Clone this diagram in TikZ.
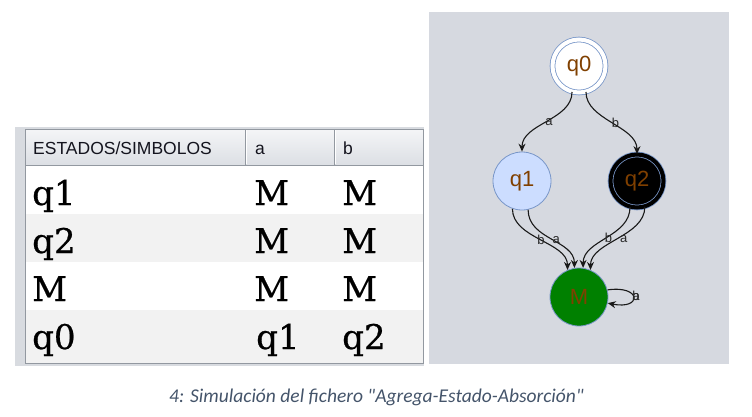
\documentclass[tikz,border=0pt]{standalone}
\usepackage{fontspec}
\setmainfont{Liberation Sans}
\newfontfamily\cellfont{DejaVu Serif}[FakeBold=0.7]
\newfontfamily\capfont{Carlito}
\usetikzlibrary{arrows.meta}
\definecolor{panel}{RGB}{214,217,224}
\definecolor{framec}{RGB}{216,219,224}
\definecolor{bord}{RGB}{120,150,200}
\definecolor{q1fill}{RGB}{204,221,255}
\definecolor{greenc}{RGB}{0,128,0}
\definecolor{brownc}{RGB}{128,64,0}
\definecolor{edgec}{RGB}{25,25,25}
\definecolor{lblc}{RGB}{40,40,40}
\definecolor{headc}{RGB}{20,20,30}
\definecolor{headtop}{RGB}{244,245,247}
\definecolor{headbot}{RGB}{220,223,228}
\definecolor{gridc}{RGB}{146,152,160}
\definecolor{rowgray}{RGB}{242,242,242}
\definecolor{capc}{RGB}{68,84,106}
\begin{document}
\begin{tikzpicture}[x=1pt,y=-1pt,
  edge/.style={draw=edgec, line width=1.1pt, -{Stealth[length=8pt,width=7pt]}},
  lbl/.style={font=\fontsize{13}{13}\selectfont, text=lblc, inner sep=0.5pt},
  state/.style={circle, minimum size=58pt, inner sep=0pt, draw=bord, line width=0.8pt, font=\fontsize{22}{22}\selectfont, text=brownc},
  dstate/.style={state, minimum size=53pt, double distance=4pt},
  cell/.style={anchor=base west, font=\cellfont\fontsize{34}{34}\selectfont, inner sep=0pt},
  head/.style={anchor=base west, font=\fontsize{17.5}{17.5}\selectfont, text=headc, inner sep=0pt}]
\useasboundingbox (0,0) rectangle (752,416);
% graph panel
\fill[panel] (429,12) rectangle (729,364);
% table frame
\fill[framec] (15,127) rectangle (424,366);
\shade[top color=headtop, bottom color=headbot] (25,129) rectangle (423,165);
\fill[white] (25,165) rectangle (423,214);
\fill[rowgray] (25,214) rectangle (423,262);
\fill[white] (25,262) rectangle (423,310);
\fill[rowgray] (25,310) rectangle (423,363);
\draw[gridc, line width=1pt] (25,129) rectangle (423,363);
\draw[gridc, line width=1pt] (25,165) -- (423,165);
\draw[gridc, line width=1pt] (245,129) -- (245,165);
\draw[gridc, line width=1pt] (334,129) -- (334,165);
\draw[white, line width=0.8pt] (246.5,130) -- (246.5,164);
\draw[white, line width=0.8pt] (335.5,130) -- (335.5,164);
% header
\node[head] (h0) at (33,154) {ESTADOS/SIMBOLOS};
\node[head] (h1) at (255,154) {a};
\node[head] (h2) at (343,154) {b};
% cells
\node[cell] (r1c0) at (32,205) {q1};
\node[cell] (r1c1) at (254,205) {M};
\node[cell] (r1c2) at (342,205) {M};
\node[cell] (r2c0) at (32,253) {q2};
\node[cell] (r2c1) at (254,253) {M};
\node[cell] (r2c2) at (342,253) {M};
\node[cell] (r3c0) at (32,301) {M};
\node[cell] (r3c1) at (254,301) {M};
\node[cell] (r3c2) at (342,301) {M};
\node[cell] (r4c0) at (32,349) {q0};
\node[cell] (r4c1) at (256,349) {q1};
\node[cell] (r4c2) at (342,349) {q2};
% states
\node[dstate, fill=white, double=white] (q0) at (579,66) {q0};
\node[state, fill=q1fill] (q1) at (522,181) {q1};
\node[dstate, fill=black, double=black] (q2) at (637,181) {q2};
\node[state, fill=greenc] (M) at (579,297) {M};
% edges
\draw[edge] (q0.255) .. controls +(0,28) and +(0,-28) .. node[lbl, pos=0.5, xshift=2pt] (la1) {a} (q1.north);
\draw[edge] (q0.285) .. controls +(0,28) and +(0,-28) .. node[lbl, pos=0.5, xshift=4pt] (lb1) {b} (q2.north);
\draw[edge] (q1.251) .. controls +(0,30) and +(0,-28) .. node[lbl, pos=0.5, xshift=1pt] (lb2) {b} (M.113);
\draw[edge] (q1.282) .. controls +(0,30) and +(0,-28) .. node[lbl, pos=0.5, xshift=5pt] (la2) {a} (M.99);
\draw[edge] (q2.255) .. controls +(0,30) and +(0,-28) .. node[lbl, pos=0.5, xshift=2pt] (lb3) {b} (M.82);
\draw[edge] (q2.287) .. controls +(0,30) and +(0,-28) .. node[lbl, pos=0.5, xshift=6pt] (la3) {a} (M.67);
\draw[edge] (M.14) .. controls (642,285) and (642,310) .. (M.-12);
\node[lbl] (lloopb) at (636,296) {b};
\node[lbl] (lloopa) at (636,297) {a};
% caption
\node[font=\capfont\itshape\fontsize{19.5}{19.5}\selectfont, text=capc, anchor=base, inner sep=0pt] (cap) at (376.5,402) {4: Simulación del fichero "Agrega-Estado-Absorción"};
\end{tikzpicture}
\end{document}
